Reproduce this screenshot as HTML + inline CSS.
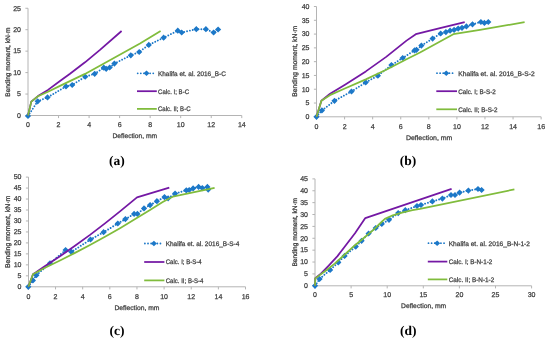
<!DOCTYPE html>
<html><head><meta charset="utf-8"><style>
html,body{margin:0;padding:0;background:#fff;width:550px;height:343px;overflow:hidden}
svg{display:block;will-change:transform}
text{font-family:"Liberation Sans",sans-serif;text-rendering:geometricPrecision}
</style></head><body>
<svg width="550" height="343" viewBox="0 0 550 343">
<rect width="550" height="343" fill="#fff"/>
<g stroke="#b4b4b4" stroke-width="1" fill="none">
<path d="M28 8.25V115.5H241.78"/>
<path d="M25.4 115.5H28M25.4 94.05H28M25.4 72.6H28M25.4 51.15H28M25.4 29.7H28M25.4 8.25H28M28 115.5V118.1M58.54 115.5V118.1M89.08 115.5V118.1M119.62 115.5V118.1M150.16 115.5V118.1M180.7 115.5V118.1M211.24 115.5V118.1M241.78 115.5V118.1"/>
</g>
<g fill="#404040" stroke="#404040" stroke-width="0.25" font-family="Liberation Sans">
<text transform="translate(21 117.8) scale(1 1)" font-size="7" text-anchor="end">0</text>
<text transform="translate(21 96.35) scale(1 1)" font-size="7" text-anchor="end">5</text>
<text transform="translate(21 74.9) scale(1 1)" font-size="7" text-anchor="end">10</text>
<text transform="translate(21 53.45) scale(1 1)" font-size="7" text-anchor="end">15</text>
<text transform="translate(21 32) scale(1 1)" font-size="7" text-anchor="end">20</text>
<text transform="translate(21 10.55) scale(1 1)" font-size="7" text-anchor="end">25</text>
<text transform="translate(28 127.2) scale(1 1)" font-size="7" text-anchor="middle">0</text>
<text transform="translate(58.54 127.2) scale(1 1)" font-size="7" text-anchor="middle">2</text>
<text transform="translate(89.08 127.2) scale(1 1)" font-size="7" text-anchor="middle">4</text>
<text transform="translate(119.62 127.2) scale(1 1)" font-size="7" text-anchor="middle">6</text>
<text transform="translate(150.16 127.2) scale(1 1)" font-size="7" text-anchor="middle">8</text>
<text transform="translate(180.7 127.2) scale(1 1)" font-size="7" text-anchor="middle">10</text>
<text transform="translate(211.24 127.2) scale(1 1)" font-size="7" text-anchor="middle">12</text>
<text transform="translate(241.78 127.2) scale(1 1)" font-size="7" text-anchor="middle">14</text>
<text x="134.85" y="138.2" font-size="6.6" text-anchor="middle" textLength="44.7" lengthAdjust="spacingAndGlyphs">Deflection, mm</text>
<text transform="translate(10.2 62.1) rotate(-90)" font-size="6.6" text-anchor="middle" stroke-width="0.3" text-rendering="geometricPrecision">Bending moment, kN&#183;m</text>
<text x="158" y="75.6" font-size="6.6" text-anchor="start" textLength="67.8" lengthAdjust="spacingAndGlyphs">Khalifa et. al. 2016_B-C</text>
<text x="158" y="93.5" font-size="6.6" text-anchor="start" textLength="31.1" lengthAdjust="spacingAndGlyphs">Calc. I; B-C</text>
<text x="158" y="111.2" font-size="6.6" text-anchor="start" textLength="32.5" lengthAdjust="spacingAndGlyphs">Calc. II; B-C</text>
</g>
<polyline points="28,116 37.7,101.3 47.5,97.4 66,86.4 72.2,85 85.2,76.7 94.7,73.8 103.8,67.7 106.2,68.8 109.7,67.5 114.4,63.6 130.8,55.3 139.2,52 148.8,44.9 163.6,37.7 177.8,30.7 181.7,32.5 196.3,29.2 205.9,29.2 213.6,32.5 218.1,29.5" fill="none" stroke="#1c78c8" stroke-width="1.9" stroke-linecap="round" stroke-dasharray="0.01 2.9"/>
<path d="M28 112.9l3.1 3.1l-3.1 3.1l-3.1 -3.1zM37.7 98.2l3.1 3.1l-3.1 3.1l-3.1 -3.1zM47.5 94.3l3.1 3.1l-3.1 3.1l-3.1 -3.1zM66 83.3l3.1 3.1l-3.1 3.1l-3.1 -3.1zM72.2 81.9l3.1 3.1l-3.1 3.1l-3.1 -3.1zM85.2 73.6l3.1 3.1l-3.1 3.1l-3.1 -3.1zM94.7 70.7l3.1 3.1l-3.1 3.1l-3.1 -3.1zM103.8 64.6l3.1 3.1l-3.1 3.1l-3.1 -3.1zM106.2 65.7l3.1 3.1l-3.1 3.1l-3.1 -3.1zM109.7 64.4l3.1 3.1l-3.1 3.1l-3.1 -3.1zM114.4 60.5l3.1 3.1l-3.1 3.1l-3.1 -3.1zM130.8 52.2l3.1 3.1l-3.1 3.1l-3.1 -3.1zM139.2 48.9l3.1 3.1l-3.1 3.1l-3.1 -3.1zM148.8 41.8l3.1 3.1l-3.1 3.1l-3.1 -3.1zM163.6 34.6l3.1 3.1l-3.1 3.1l-3.1 -3.1zM177.8 27.6l3.1 3.1l-3.1 3.1l-3.1 -3.1zM181.7 29.4l3.1 3.1l-3.1 3.1l-3.1 -3.1zM196.3 26.1l3.1 3.1l-3.1 3.1l-3.1 -3.1zM205.9 26.1l3.1 3.1l-3.1 3.1l-3.1 -3.1zM213.6 29.4l3.1 3.1l-3.1 3.1l-3.1 -3.1zM218.1 26.4l3.1 3.1l-3.1 3.1l-3.1 -3.1z" fill="#1c78c8"/>
<polyline points="28,115.5 31.3,101.6 38,96.1 48,89.9 60,81 70,73.8 85,62.3 100,49.9 121.6,31" fill="none" stroke="#7418a4" stroke-width="1.75" stroke-linejoin="round"/>
<polyline points="28,115.5 31.3,101.6 38,96.3 48,91.8 60,85.9 85,73.9 140,43.5 160.6,31" fill="none" stroke="#80bc3c" stroke-width="1.75" stroke-linejoin="round"/>
<path d="M137.7 73.3H155" stroke="#1c78c8" stroke-width="1.8" stroke-linecap="round" stroke-dasharray="0.01 3.1"/>
<path d="M146.5 70.6l3 2.7l-3 2.7l-3 -2.7z" fill="#1c78c8"/>
<path d="M137 91.2H156.8" stroke="#7418a4" stroke-width="1.75"/>
<path d="M137 108.9H156.8" stroke="#80bc3c" stroke-width="1.75"/>
<text x="116.8" y="165.2" style="font-family:'Liberation Serif',serif" font-weight="bold" font-size="13.5" text-anchor="middle" fill="#000">(a)</text>
<g stroke="#b4b4b4" stroke-width="1" fill="none">
<path d="M316.5 6.52V116.8H541.14"/>
<path d="M313.9 116.8H316.5M313.9 103.02H316.5M313.9 89.23H316.5M313.9 75.44H316.5M313.9 61.66H316.5M313.9 47.88H316.5M313.9 34.09H316.5M313.9 20.3H316.5M313.9 6.52H316.5M316.5 116.8V119.4M344.58 116.8V119.4M372.66 116.8V119.4M400.74 116.8V119.4M428.82 116.8V119.4M456.9 116.8V119.4M484.98 116.8V119.4M513.06 116.8V119.4M541.14 116.8V119.4"/>
</g>
<g fill="#404040" stroke="#404040" stroke-width="0.25" font-family="Liberation Sans">
<text transform="translate(309.5 119.1) scale(1 1)" font-size="7" text-anchor="end">0</text>
<text transform="translate(309.5 105.31) scale(1 1)" font-size="7" text-anchor="end">5</text>
<text transform="translate(309.5 91.53) scale(1 1)" font-size="7" text-anchor="end">10</text>
<text transform="translate(309.5 77.74) scale(1 1)" font-size="7" text-anchor="end">15</text>
<text transform="translate(309.5 63.96) scale(1 1)" font-size="7" text-anchor="end">20</text>
<text transform="translate(309.5 50.17) scale(1 1)" font-size="7" text-anchor="end">25</text>
<text transform="translate(309.5 36.39) scale(1 1)" font-size="7" text-anchor="end">30</text>
<text transform="translate(309.5 22.6) scale(1 1)" font-size="7" text-anchor="end">35</text>
<text transform="translate(309.5 8.82) scale(1 1)" font-size="7" text-anchor="end">40</text>
<text transform="translate(316.5 128.9) scale(1 1)" font-size="7" text-anchor="middle">0</text>
<text transform="translate(344.58 128.9) scale(1 1)" font-size="7" text-anchor="middle">2</text>
<text transform="translate(372.66 128.9) scale(1 1)" font-size="7" text-anchor="middle">4</text>
<text transform="translate(400.74 128.9) scale(1 1)" font-size="7" text-anchor="middle">6</text>
<text transform="translate(428.82 128.9) scale(1 1)" font-size="7" text-anchor="middle">8</text>
<text transform="translate(456.9 128.9) scale(1 1)" font-size="7" text-anchor="middle">10</text>
<text transform="translate(484.98 128.9) scale(1 1)" font-size="7" text-anchor="middle">12</text>
<text transform="translate(513.06 128.9) scale(1 1)" font-size="7" text-anchor="middle">14</text>
<text transform="translate(541.14 128.9) scale(1 1)" font-size="7" text-anchor="middle">16</text>
<text x="429.15" y="140.4" font-size="6.6" text-anchor="middle" textLength="46.5" lengthAdjust="spacingAndGlyphs">Deflection, mm</text>
<text transform="translate(297 61.3) rotate(-90)" font-size="6.78" text-anchor="middle" stroke-width="0.3" text-rendering="geometricPrecision">Bending moment, kN&#183;m</text>
<text x="458.2" y="75.5" font-size="6.6" text-anchor="start" textLength="76.6" lengthAdjust="spacingAndGlyphs">Khalifa et. al. 2016_B-S-2</text>
<text x="458.2" y="93.5" font-size="6.6" text-anchor="start" textLength="37.6" lengthAdjust="spacingAndGlyphs">Calc. I; B-S-2</text>
<text x="458.2" y="111.6" font-size="6.6" text-anchor="start" textLength="39.3" lengthAdjust="spacingAndGlyphs">Calc. II; B-S-2</text>
</g>
<polyline points="316.5,116.8 321.9,110.4 334.5,100.8 351.5,91.5 365.7,82.4 377.9,75.7 391.4,65.1 402.7,58 414.5,50.4 416.5,49.8 421.4,45.6 432.6,38.6 440.7,33.5 445.9,32.1 450.1,30.7 454.1,29.9 458.2,28.6 462,27.8 466.4,26.4 472.5,24.3 480.9,22 484.4,22.9 488.3,22" fill="none" stroke="#1c78c8" stroke-width="1.9" stroke-linecap="round" stroke-dasharray="0.01 2.9"/>
<path d="M316.5 113.7l3.1 3.1l-3.1 3.1l-3.1 -3.1zM321.9 107.3l3.1 3.1l-3.1 3.1l-3.1 -3.1zM334.5 97.7l3.1 3.1l-3.1 3.1l-3.1 -3.1zM351.5 88.4l3.1 3.1l-3.1 3.1l-3.1 -3.1zM365.7 79.3l3.1 3.1l-3.1 3.1l-3.1 -3.1zM377.9 72.6l3.1 3.1l-3.1 3.1l-3.1 -3.1zM391.4 62l3.1 3.1l-3.1 3.1l-3.1 -3.1zM402.7 54.9l3.1 3.1l-3.1 3.1l-3.1 -3.1zM414.5 47.3l3.1 3.1l-3.1 3.1l-3.1 -3.1zM416.5 46.7l3.1 3.1l-3.1 3.1l-3.1 -3.1zM421.4 42.5l3.1 3.1l-3.1 3.1l-3.1 -3.1zM432.6 35.5l3.1 3.1l-3.1 3.1l-3.1 -3.1zM440.7 30.4l3.1 3.1l-3.1 3.1l-3.1 -3.1zM445.9 29l3.1 3.1l-3.1 3.1l-3.1 -3.1zM450.1 27.6l3.1 3.1l-3.1 3.1l-3.1 -3.1zM454.1 26.8l3.1 3.1l-3.1 3.1l-3.1 -3.1zM458.2 25.5l3.1 3.1l-3.1 3.1l-3.1 -3.1zM462 24.7l3.1 3.1l-3.1 3.1l-3.1 -3.1zM466.4 23.3l3.1 3.1l-3.1 3.1l-3.1 -3.1zM472.5 21.2l3.1 3.1l-3.1 3.1l-3.1 -3.1zM480.9 18.9l3.1 3.1l-3.1 3.1l-3.1 -3.1zM484.4 19.8l3.1 3.1l-3.1 3.1l-3.1 -3.1zM488.3 18.9l3.1 3.1l-3.1 3.1l-3.1 -3.1z" fill="#1c78c8"/>
<polyline points="316.5,116.8 321.4,100.8 330.1,93.8 345.4,84.4 365.8,71.4 386.2,56.9 406.5,40.6 415.8,34.2 440,28.2 464.7,22.2" fill="none" stroke="#7418a4" stroke-width="1.75" stroke-linejoin="round"/>
<polyline points="316.5,116.8 321.4,100.8 331,94.6 345.4,88.2 365.8,79.4 386.2,69.7 406.5,59.3 420,52.5 453.3,34.2 480,29.8 524.6,22.2" fill="none" stroke="#80bc3c" stroke-width="1.75" stroke-linejoin="round"/>
<path d="M437 73.2H455.2" stroke="#1c78c8" stroke-width="1.8" stroke-linecap="round" stroke-dasharray="0.01 3.1"/>
<path d="M446.25 70.5l3 2.7l-3 2.7l-3 -2.7z" fill="#1c78c8"/>
<path d="M436.3 91.2H457" stroke="#7418a4" stroke-width="1.75"/>
<path d="M436.3 109.3H457" stroke="#80bc3c" stroke-width="1.75"/>
<text x="408.1" y="165.3" style="font-family:'Liberation Serif',serif" font-weight="bold" font-size="13.5" text-anchor="middle" fill="#000">(b)</text>
<g stroke="#b4b4b4" stroke-width="1" fill="none">
<path d="M28.5 177.1V286.8H245.52"/>
<path d="M25.9 286.8H28.5M25.9 275.83H28.5M25.9 264.86H28.5M25.9 253.89H28.5M25.9 242.92H28.5M25.9 231.95H28.5M25.9 220.98H28.5M25.9 210.01H28.5M25.9 199.04H28.5M25.9 188.07H28.5M25.9 177.1H28.5M28.4 286.8V289.4M55.54 286.8V289.4M82.68 286.8V289.4M109.82 286.8V289.4M136.96 286.8V289.4M164.1 286.8V289.4M191.24 286.8V289.4M218.38 286.8V289.4M245.52 286.8V289.4"/>
</g>
<g fill="#404040" stroke="#404040" stroke-width="0.25" font-family="Liberation Sans">
<text transform="translate(21.5 289.1) scale(1 1)" font-size="7" text-anchor="end">0</text>
<text transform="translate(21.5 278.13) scale(1 1)" font-size="7" text-anchor="end">5</text>
<text transform="translate(21.5 267.16) scale(1 1)" font-size="7" text-anchor="end">10</text>
<text transform="translate(21.5 256.19) scale(1 1)" font-size="7" text-anchor="end">15</text>
<text transform="translate(21.5 245.22) scale(1 1)" font-size="7" text-anchor="end">20</text>
<text transform="translate(21.5 234.25) scale(1 1)" font-size="7" text-anchor="end">25</text>
<text transform="translate(21.5 223.28) scale(1 1)" font-size="7" text-anchor="end">30</text>
<text transform="translate(21.5 212.31) scale(1 1)" font-size="7" text-anchor="end">35</text>
<text transform="translate(21.5 201.34) scale(1 1)" font-size="7" text-anchor="end">40</text>
<text transform="translate(21.5 190.37) scale(1 1)" font-size="7" text-anchor="end">45</text>
<text transform="translate(21.5 179.4) scale(1 1)" font-size="7" text-anchor="end">50</text>
<text transform="translate(28.4 298.6) scale(1 1)" font-size="7" text-anchor="middle">0</text>
<text transform="translate(55.54 298.6) scale(1 1)" font-size="7" text-anchor="middle">2</text>
<text transform="translate(82.68 298.6) scale(1 1)" font-size="7" text-anchor="middle">4</text>
<text transform="translate(109.82 298.6) scale(1 1)" font-size="7" text-anchor="middle">6</text>
<text transform="translate(136.96 298.6) scale(1 1)" font-size="7" text-anchor="middle">8</text>
<text transform="translate(164.1 298.6) scale(1 1)" font-size="7" text-anchor="middle">10</text>
<text transform="translate(191.24 298.6) scale(1 1)" font-size="7" text-anchor="middle">12</text>
<text transform="translate(218.38 298.6) scale(1 1)" font-size="7" text-anchor="middle">14</text>
<text transform="translate(245.52 298.6) scale(1 1)" font-size="7" text-anchor="middle">16</text>
<text x="136.95" y="310.4" font-size="6.6" text-anchor="middle" textLength="45.1" lengthAdjust="spacingAndGlyphs">Deflection, mm</text>
<text transform="translate(10 231.9) rotate(-90)" font-size="6.89" text-anchor="middle" stroke-width="0.3" text-rendering="geometricPrecision">Bending moment, kN&#183;m</text>
<text x="165.7" y="245.8" font-size="6.6" text-anchor="start" textLength="73.7" lengthAdjust="spacingAndGlyphs">Khalifa et. al. 2016_B-S-4</text>
<text x="165.7" y="264.3" font-size="6.6" text-anchor="start" textLength="36" lengthAdjust="spacingAndGlyphs">Calc. I; B-S-4</text>
<text x="165.7" y="282.7" font-size="6.6" text-anchor="start" textLength="37.7" lengthAdjust="spacingAndGlyphs">Calc. II; B-S-4</text>
</g>
<polyline points="28.3,286.8 32.9,280.4 36.4,275.2 50,263.25 65.6,250.1 71.4,251.9 90.5,239.5 103.6,232.2 117.8,223.5 125.4,219.1 134.1,213.9 137.4,213.9 144,208.4 150.1,205.1 156.9,201.2 164.5,197.1 168.1,198.3 175.1,193.6 186.3,190.3 189.2,190 193.1,188.4 198.6,186.9 202.3,188.1 207.4,186.9 208.2,189.6" fill="none" stroke="#1c78c8" stroke-width="1.9" stroke-linecap="round" stroke-dasharray="0.01 2.9"/>
<path d="M28.3 283.7l3.1 3.1l-3.1 3.1l-3.1 -3.1zM32.9 277.3l3.1 3.1l-3.1 3.1l-3.1 -3.1zM36.4 272.1l3.1 3.1l-3.1 3.1l-3.1 -3.1zM50 260.15l3.1 3.1l-3.1 3.1l-3.1 -3.1zM65.6 247l3.1 3.1l-3.1 3.1l-3.1 -3.1zM71.4 248.8l3.1 3.1l-3.1 3.1l-3.1 -3.1zM90.5 236.4l3.1 3.1l-3.1 3.1l-3.1 -3.1zM103.6 229.1l3.1 3.1l-3.1 3.1l-3.1 -3.1zM117.8 220.4l3.1 3.1l-3.1 3.1l-3.1 -3.1zM125.4 216l3.1 3.1l-3.1 3.1l-3.1 -3.1zM134.1 210.8l3.1 3.1l-3.1 3.1l-3.1 -3.1zM137.4 210.8l3.1 3.1l-3.1 3.1l-3.1 -3.1zM144 205.3l3.1 3.1l-3.1 3.1l-3.1 -3.1zM150.1 202l3.1 3.1l-3.1 3.1l-3.1 -3.1zM156.9 198.1l3.1 3.1l-3.1 3.1l-3.1 -3.1zM164.5 194l3.1 3.1l-3.1 3.1l-3.1 -3.1zM168.1 195.2l3.1 3.1l-3.1 3.1l-3.1 -3.1zM175.1 190.5l3.1 3.1l-3.1 3.1l-3.1 -3.1zM186.3 187.2l3.1 3.1l-3.1 3.1l-3.1 -3.1zM189.2 186.9l3.1 3.1l-3.1 3.1l-3.1 -3.1zM193.1 185.3l3.1 3.1l-3.1 3.1l-3.1 -3.1zM198.6 183.8l3.1 3.1l-3.1 3.1l-3.1 -3.1zM202.3 185l3.1 3.1l-3.1 3.1l-3.1 -3.1zM207.4 183.8l3.1 3.1l-3.1 3.1l-3.1 -3.1zM208.2 186.5l3.1 3.1l-3.1 3.1l-3.1 -3.1z" fill="#1c78c8"/>
<polyline points="28.4,286.8 33,274.2 36,272.3 44,266.8 60,256.3 75,245.8 90,234.9 105,223.4 120,211.4 137,197.4 169.3,187.7" fill="none" stroke="#7418a4" stroke-width="1.75" stroke-linejoin="round"/>
<polyline points="28.4,286.8 33,274.3 39,270.9 44,268.2 60,260.5 75,252.9 90,245 105,236.8 120,228.2 136,218.6 150,209.9 162.3,202.2 169.6,198.3 174,196.3 180,195.2 214.6,187.8" fill="none" stroke="#80bc3c" stroke-width="1.75" stroke-linejoin="round"/>
<path d="M144.9 243.5H162.6" stroke="#1c78c8" stroke-width="1.8" stroke-linecap="round" stroke-dasharray="0.01 3.1"/>
<path d="M153.9 240.8l3 2.7l-3 2.7l-3 -2.7z" fill="#1c78c8"/>
<path d="M144.2 262H164.4" stroke="#7418a4" stroke-width="1.75"/>
<path d="M144.2 280.4H164.4" stroke="#80bc3c" stroke-width="1.75"/>
<text x="116.9" y="335.3" style="font-family:'Liberation Serif',serif" font-weight="bold" font-size="13.5" text-anchor="middle" fill="#000">(c)</text>
<g stroke="#b4b4b4" stroke-width="1" fill="none">
<path d="M315 178.88V285.8H531.6"/>
<path d="M312.4 285.8H315M312.4 273.92H315M312.4 262.04H315M312.4 250.16H315M312.4 238.28H315M312.4 226.4H315M312.4 214.52H315M312.4 202.64H315M312.4 190.76H315M312.4 178.88H315M315 285.8V288.4M351.1 285.8V288.4M387.2 285.8V288.4M423.3 285.8V288.4M459.4 285.8V288.4M495.5 285.8V288.4M531.6 285.8V288.4"/>
</g>
<g fill="#404040" stroke="#404040" stroke-width="0.25" font-family="Liberation Sans">
<text transform="translate(308 288.1) scale(1 1)" font-size="7" text-anchor="end">0</text>
<text transform="translate(308 276.22) scale(1 1)" font-size="7" text-anchor="end">5</text>
<text transform="translate(308 264.34) scale(1 1)" font-size="7" text-anchor="end">10</text>
<text transform="translate(308 252.46) scale(1 1)" font-size="7" text-anchor="end">15</text>
<text transform="translate(308 240.58) scale(1 1)" font-size="7" text-anchor="end">20</text>
<text transform="translate(308 228.7) scale(1 1)" font-size="7" text-anchor="end">25</text>
<text transform="translate(308 216.82) scale(1 1)" font-size="7" text-anchor="end">30</text>
<text transform="translate(308 204.94) scale(1 1)" font-size="7" text-anchor="end">35</text>
<text transform="translate(308 193.06) scale(1 1)" font-size="7" text-anchor="end">40</text>
<text transform="translate(308 181.18) scale(1 1)" font-size="7" text-anchor="end">45</text>
<text transform="translate(315 297) scale(1 1)" font-size="7" text-anchor="middle">0</text>
<text transform="translate(351.1 297) scale(1 1)" font-size="7" text-anchor="middle">5</text>
<text transform="translate(387.2 297) scale(1 1)" font-size="7" text-anchor="middle">10</text>
<text transform="translate(423.3 297) scale(1 1)" font-size="7" text-anchor="middle">15</text>
<text transform="translate(459.4 297) scale(1 1)" font-size="7" text-anchor="middle">20</text>
<text transform="translate(495.5 297) scale(1 1)" font-size="7" text-anchor="middle">25</text>
<text transform="translate(531.6 297) scale(1 1)" font-size="7" text-anchor="middle">30</text>
<text x="423.65" y="308.4" font-size="6.6" text-anchor="middle" textLength="45.1" lengthAdjust="spacingAndGlyphs">Deflection, mm</text>
<text transform="translate(296.9 232.3) rotate(-90)" font-size="6.54" text-anchor="middle" stroke-width="0.3" text-rendering="geometricPrecision">Bending moment, kN&#183;m</text>
<text x="448.7" y="245.5" font-size="6.6" text-anchor="start" textLength="81.3" lengthAdjust="spacingAndGlyphs">Khalifa et. al. 2016_B-N-1-2</text>
<text x="448.7" y="263.9" font-size="6.6" text-anchor="start" textLength="43.7" lengthAdjust="spacingAndGlyphs">Calc. I; B-N-1-2</text>
<text x="448.7" y="281.7" font-size="6.6" text-anchor="start" textLength="45.5" lengthAdjust="spacingAndGlyphs">Calc. II; B-N-1-2</text>
</g>
<polyline points="315,285.8 319.6,279 330.1,269.9 338.3,262.4 344.6,255.9 355.8,246.6 361.6,240.8 368.6,233.5 375.7,228 381.8,223.9 389,219.8 398.2,213.1 405.3,210.2 417,206 421,205 432.4,201.4 442.4,198.6 451,195 455,195 459.6,192.6 468.4,190.6 478,189 481.6,190" fill="none" stroke="#1c78c8" stroke-width="1.9" stroke-linecap="round" stroke-dasharray="0.01 2.9"/>
<path d="M315 282.7l3.1 3.1l-3.1 3.1l-3.1 -3.1zM319.6 275.9l3.1 3.1l-3.1 3.1l-3.1 -3.1zM330.1 266.8l3.1 3.1l-3.1 3.1l-3.1 -3.1zM338.3 259.3l3.1 3.1l-3.1 3.1l-3.1 -3.1zM344.6 252.8l3.1 3.1l-3.1 3.1l-3.1 -3.1zM355.8 243.5l3.1 3.1l-3.1 3.1l-3.1 -3.1zM361.6 237.7l3.1 3.1l-3.1 3.1l-3.1 -3.1zM368.6 230.4l3.1 3.1l-3.1 3.1l-3.1 -3.1zM375.7 224.9l3.1 3.1l-3.1 3.1l-3.1 -3.1zM381.8 220.8l3.1 3.1l-3.1 3.1l-3.1 -3.1zM389 216.7l3.1 3.1l-3.1 3.1l-3.1 -3.1zM398.2 210l3.1 3.1l-3.1 3.1l-3.1 -3.1zM405.3 207.1l3.1 3.1l-3.1 3.1l-3.1 -3.1zM417 202.9l3.1 3.1l-3.1 3.1l-3.1 -3.1zM421 201.9l3.1 3.1l-3.1 3.1l-3.1 -3.1zM432.4 198.3l3.1 3.1l-3.1 3.1l-3.1 -3.1zM442.4 195.5l3.1 3.1l-3.1 3.1l-3.1 -3.1zM451 191.9l3.1 3.1l-3.1 3.1l-3.1 -3.1zM455 191.9l3.1 3.1l-3.1 3.1l-3.1 -3.1zM459.6 189.5l3.1 3.1l-3.1 3.1l-3.1 -3.1zM468.4 187.5l3.1 3.1l-3.1 3.1l-3.1 -3.1zM478 185.9l3.1 3.1l-3.1 3.1l-3.1 -3.1zM481.6 186.9l3.1 3.1l-3.1 3.1l-3.1 -3.1z" fill="#1c78c8"/>
<polyline points="315,285.8 315.3,278.2 320.9,273.6 328.7,265.7 337.5,256.1 346.2,244.7 355,233.2 365.3,218.1 451.6,188.8" fill="none" stroke="#7418a4" stroke-width="1.75" stroke-linejoin="round"/>
<polyline points="315,285.8 315.3,278.4 327,269.8 334.7,263.6 343.7,255.5 355,245.2 362.6,239 373.1,230.2 379,224.5 384.9,218.9 392.8,215.3 402,212.7 412.5,210.1 420,208.8 514.4,189.4" fill="none" stroke="#80bc3c" stroke-width="1.75" stroke-linejoin="round"/>
<path d="M428.5 243.2H445.5" stroke="#1c78c8" stroke-width="1.8" stroke-linecap="round" stroke-dasharray="0.01 3.1"/>
<path d="M437.15 240.5l3 2.7l-3 2.7l-3 -2.7z" fill="#1c78c8"/>
<path d="M427.8 261.6H447.3" stroke="#7418a4" stroke-width="1.75"/>
<path d="M427.8 279.4H447.3" stroke="#80bc3c" stroke-width="1.75"/>
<text x="408.3" y="335.3" style="font-family:'Liberation Serif',serif" font-weight="bold" font-size="13.5" text-anchor="middle" fill="#000">(d)</text>
</svg>
</body></html>
